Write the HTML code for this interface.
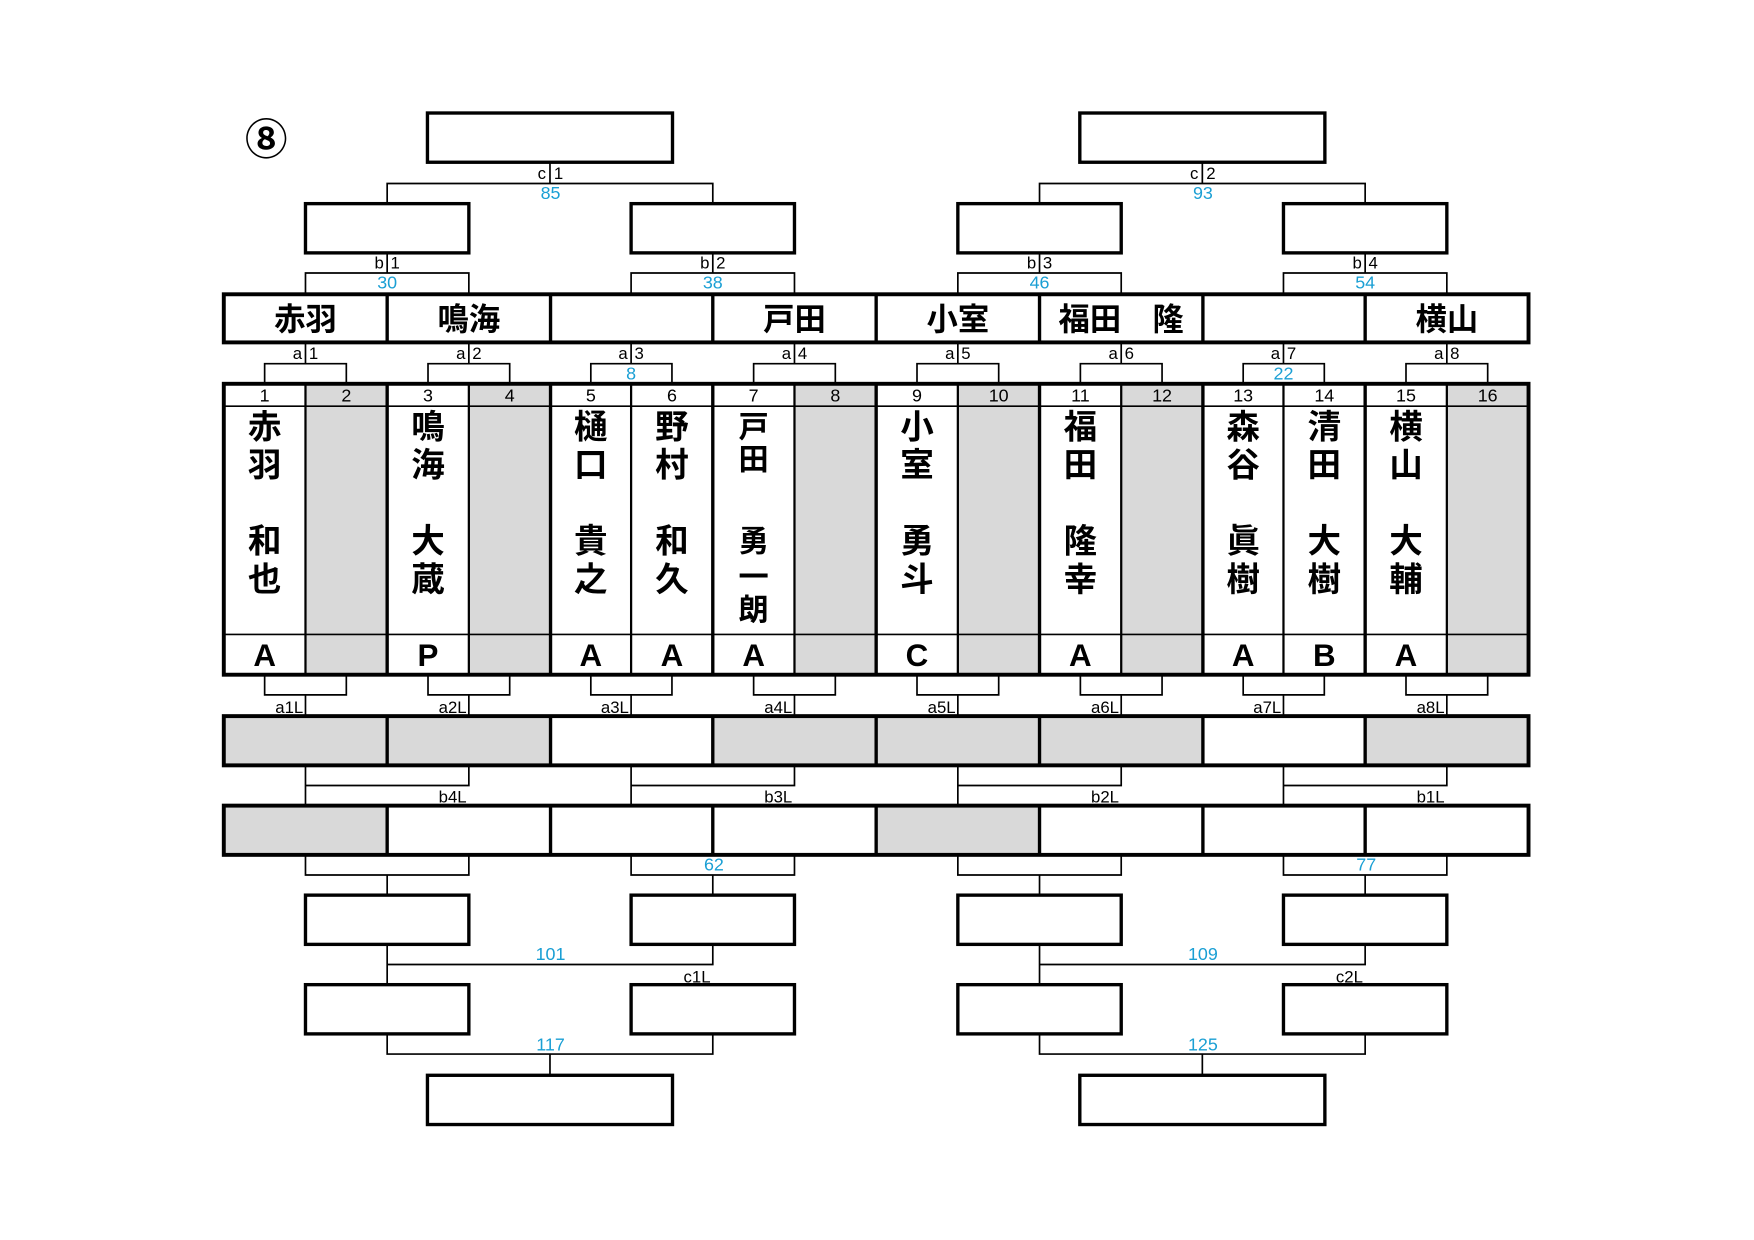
<!DOCTYPE html>
<html><head><meta charset="utf-8"><style>
html,body{margin:0;padding:0;background:#fff}
svg{display:block}
.s{font-family:"Liberation Sans","Noto Sans CJK JP",sans-serif;font-size:15px;fill:#000}
.bl{font-family:"Liberation Sans",sans-serif;font-size:16px;fill:#1a9fd4}
.tm{font-family:"Liberation Sans","Noto Sans CJK JP",sans-serif;font-size:28px;font-weight:bold;text-anchor:middle}
.nm{font-family:"Noto Sans CJK JP",sans-serif;font-size:30px;font-weight:bold;text-anchor:middle}
.nm2{font-family:"Noto Sans CJK JP",sans-serif;font-size:27px;font-weight:bold;text-anchor:middle}
.gr{font-family:"Liberation Sans",sans-serif;font-size:28px;font-weight:bold;text-anchor:middle}
.num{font-family:"Liberation Sans",sans-serif;font-size:16px;text-anchor:middle}
.c{fill:none;stroke:#000;stroke-width:1.5}
.b{fill:#fff;stroke:#000;stroke-width:3}
</style></head><body>
<svg width="1754" height="1240" viewBox="0 0 1567.5 1108.2" preserveAspectRatio="none" xmlns="http://www.w3.org/2000/svg">
<text x="238" y="138" font-family="Noto Sans CJK JP,DejaVu Sans,sans-serif" font-size="38" font-weight="bold" text-anchor="middle">⑧</text>

<rect class="b" x="382" y="101" width="219" height="44"/>
<rect class="b" x="965" y="101" width="219" height="44"/>
<path class="c" d="M346 182V164H637V182M491.5 164V145M929 182V164H1220V182M1074.5 164V145"/>
<text class="s" x="488" y="160" text-anchor="end">c</text><text class="s" x="495" y="160">1</text>
<text class="bl" x="492" y="178" text-anchor="middle">85</text>
<text class="s" x="1071" y="160" text-anchor="end">c</text><text class="s" x="1078" y="160">2</text>
<text class="bl" x="1075" y="178" text-anchor="middle">93</text>

<rect class="b" x="273" y="182" width="146" height="44"/>
<rect class="b" x="564" y="182" width="146" height="44"/>
<rect class="b" x="856" y="182" width="146" height="44"/>
<rect class="b" x="1147" y="182" width="146" height="44"/>
<path class="c" d="M273 263V244H419V263M346 244V226M564 263V244H710V263M637 244V226M856 263V244H1002V263M929 244V226M1147 263V244H1293V263M1220 244V226"/>
<text class="s" x="343" y="240" text-anchor="end">b</text><text class="s" x="349" y="240">1</text><text class="bl" x="346" y="258" text-anchor="middle">30</text>
<text class="s" x="634" y="240" text-anchor="end">b</text><text class="s" x="640" y="240">2</text><text class="bl" x="637" y="258" text-anchor="middle">38</text>
<text class="s" x="926" y="240" text-anchor="end">b</text><text class="s" x="932" y="240">3</text><text class="bl" x="929" y="258" text-anchor="middle">46</text>
<text class="s" x="1217" y="240" text-anchor="end">b</text><text class="s" x="1223" y="240">4</text><text class="bl" x="1220" y="258" text-anchor="middle">54</text>

<rect x="200" y="263" width="1166" height="43" fill="#fff" stroke="#000" stroke-width="3.5"/>
<path stroke="#000" stroke-width="3" d="M346 263V306M492 263V306M637 263V306M783 263V306M929 263V306M1075 263V306M1220 263V306"/>
<text class="tm" x="273" y="295">赤羽</text>
<text class="tm" x="419" y="295">鳴海</text>
<text class="tm" x="710" y="295">戸田</text>
<text class="tm" x="856" y="295">小室</text>
<text class="tm" x="1002" y="295">福田　隆</text>
<text class="tm" x="1293" y="295">横山</text>

<path class="c" d="M273 306V325M236.5 343V325H309.5V343M419 306V325M382.5 343V325H455.5V343M564 306V325M528 343V325H600.5V343M710 306V325M673.5 343V325H746.5V343M856 306V325M819.5 343V325H892.5V343M1002 306V325M965.5 343V325H1038.5V343M1147 306V325M1111 343V325H1183.5V343M1293 306V325M1256.5 343V325H1329.5V343"/>
<g class="s">
<text x="270" y="321" text-anchor="end">a</text><text x="276" y="321">1</text>
<text x="416" y="321" text-anchor="end">a</text><text x="422" y="321">2</text>
<text x="561" y="321" text-anchor="end">a</text><text x="567" y="321">3</text>
<text x="707" y="321" text-anchor="end">a</text><text x="713" y="321">4</text>
<text x="853" y="321" text-anchor="end">a</text><text x="859" y="321">5</text>
<text x="999" y="321" text-anchor="end">a</text><text x="1005" y="321">6</text>
<text x="1144" y="321" text-anchor="end">a</text><text x="1150" y="321">7</text>
<text x="1290" y="321" text-anchor="end">a</text><text x="1296" y="321">8</text>
</g>
<text class="bl" x="564" y="339" text-anchor="middle">8</text>
<text class="bl" x="1147" y="339" text-anchor="middle">22</text>

<rect x="200" y="343" width="1166" height="260" fill="#fff"/>
<g fill="#d9d9d9">
<rect x="273" y="343" width="73" height="260"/>
<rect x="419" y="343" width="73" height="260"/>
<rect x="710" y="343" width="73" height="260"/>
<rect x="856" y="343" width="73" height="260"/>
<rect x="1002" y="343" width="73" height="260"/>
<rect x="1293" y="343" width="73" height="260"/>
</g>
<path stroke="#000" stroke-width="1.5" d="M200 363H1366M200 567H1366"/>
<path stroke="#000" stroke-width="2" d="M273 343V603M419 343V603M564 343V603M710 343V603M856 343V603M1002 343V603M1147 343V603M1293 343V603"/>
<path stroke="#000" stroke-width="3" d="M346 343V603M492 343V603M637 343V603M783 343V603M929 343V603M1075 343V603M1220 343V603"/>
<rect x="200" y="343" width="1166" height="260" fill="none" stroke="#000" stroke-width="3.5"/>
<g class="num">
<text x="236.5" y="359">1</text><text x="309.5" y="359">2</text><text x="382.5" y="359">3</text><text x="455.5" y="359">4</text>
<text x="528" y="359">5</text><text x="600.5" y="359">6</text><text x="673.5" y="359">7</text><text x="746.5" y="359">8</text>
<text x="819.5" y="359">9</text><text x="892.5" y="359">10</text><text x="965.5" y="359">11</text><text x="1038.5" y="359">12</text>
<text x="1111" y="359">13</text><text x="1183.5" y="359">14</text><text x="1256.5" y="359">15</text><text x="1329.5" y="359">16</text>
</g>
<g class="nm">
<text x="236.5" y="392">赤</text><text x="236.5" y="426">羽</text><text x="236.5" y="494">和</text><text x="236.5" y="528">也</text>
<text x="382.5" y="392">鳴</text><text x="382.5" y="426">海</text><text x="382.5" y="494">大</text><text x="382.5" y="528">蔵</text>
<text x="528" y="392">樋</text><text x="528" y="426">口</text><text x="528" y="494">貴</text><text x="528" y="528">之</text>
<text x="600.5" y="392">野</text><text x="600.5" y="426">村</text><text x="600.5" y="494">和</text><text x="600.5" y="528">久</text>
<text x="819.5" y="392">小</text><text x="819.5" y="426">室</text><text x="819.5" y="494">勇</text><text x="819.5" y="528">斗</text>
<text x="965.5" y="392">福</text><text x="965.5" y="426">田</text><text x="965.5" y="494">隆</text><text x="965.5" y="528">幸</text>
<text x="1111" y="392">森</text><text x="1111" y="426">谷</text><text x="1111" y="494">眞</text><text x="1111" y="528">樹</text>
<text x="1183.5" y="392">清</text><text x="1183.5" y="426">田</text><text x="1183.5" y="494">大</text><text x="1183.5" y="528">樹</text>
<text x="1256.5" y="392">横</text><text x="1256.5" y="426">山</text><text x="1256.5" y="494">大</text><text x="1256.5" y="528">輔</text>
</g>
<g class="nm2">
<text x="673.5" y="391">戸</text><text x="673.5" y="420">田</text><text x="673.5" y="493">勇</text><text x="673.5" y="525">一</text><text x="673.5" y="554">朗</text>
</g>
<g class="gr">
<text x="236.5" y="595">A</text><text x="382.5" y="595">P</text><text x="528" y="595">A</text><text x="600.5" y="595">A</text>
<text x="673.5" y="595">A</text><text x="819.5" y="595">C</text><text x="965.5" y="595">A</text><text x="1111" y="595">A</text>
<text x="1183.5" y="595">B</text><text x="1256.5" y="595">A</text>
</g>

<path class="c" d="M236.5 603V621H309.5V603M273 621V640M382.5 603V621H455.5V603M419 621V640M528 603V621H600.5V603M564 621V640M673.5 603V621H746.5V603M710 621V640M819.5 603V621H892.5V603M856 621V640M965.5 603V621H1038.5V603M1002 621V640M1111 603V621H1183.5V603M1147 621V640M1256.5 603V621H1329.5V603M1293 621V640"/>
<g class="s" text-anchor="end">
<text x="271" y="637">a1L</text><text x="417" y="637">a2L</text><text x="562" y="637">a3L</text><text x="708" y="637">a4L</text>
<text x="854" y="637">a5L</text><text x="1000" y="637">a6L</text><text x="1145" y="637">a7L</text><text x="1291" y="637">a8L</text>
</g>

<rect x="200" y="640" width="1166" height="44" fill="#fff"/>
<g fill="#d9d9d9">
<rect x="200" y="640" width="292" height="44"/>
<rect x="637" y="640" width="438" height="44"/>
<rect x="1220" y="640" width="146" height="44"/>
</g>
<path stroke="#000" stroke-width="3" d="M346 640V684M492 640V684M637 640V684M783 640V684M929 640V684M1075 640V684M1220 640V684"/>
<rect x="200" y="640" width="1166" height="44" fill="none" stroke="#000" stroke-width="3.5"/>

<path class="c" d="M273 684V720M419 684V702H273M564 684V720M710 684V702H564M856 684V720M1002 684V702H856M1147 684V720M1293 684V702H1147"/>
<g class="s" text-anchor="end">
<text x="417" y="717">b4L</text><text x="708" y="717">b3L</text><text x="1000" y="717">b2L</text><text x="1291" y="717">b1L</text>
</g>

<rect x="200" y="720" width="1166" height="44" fill="#fff"/>
<g fill="#d9d9d9">
<rect x="200" y="720" width="146" height="44"/>
<rect x="783" y="720" width="146" height="44"/>
</g>
<path stroke="#000" stroke-width="3" d="M346 720V764M492 720V764M637 720V764M783 720V764M929 720V764M1075 720V764M1220 720V764"/>
<rect x="200" y="720" width="1166" height="44" fill="none" stroke="#000" stroke-width="3.5"/>

<path class="c" d="M273 764V782H419V764M346 782V800M564 764V782H710V764M637 782V800M856 764V782H1002V764M929 782V800M1147 764V782H1293V764M1220 782V800"/>
<text class="bl" x="638" y="778" text-anchor="middle">62</text>
<text class="bl" x="1221" y="778" text-anchor="middle">77</text>

<rect class="b" x="273" y="800" width="146" height="44"/>
<rect class="b" x="564" y="800" width="146" height="44"/>
<rect class="b" x="856" y="800" width="146" height="44"/>
<rect class="b" x="1147" y="800" width="146" height="44"/>

<path class="c" d="M346 844V880M637 844V862H346M929 844V880M1220 844V862H929"/>
<text class="bl" x="492" y="858" text-anchor="middle">101</text>
<text class="s" x="635" y="878" text-anchor="end">c1L</text>
<text class="bl" x="1075" y="858" text-anchor="middle">109</text>
<text class="s" x="1218" y="878" text-anchor="end">c2L</text>

<rect class="b" x="273" y="880" width="146" height="44"/>
<rect class="b" x="564" y="880" width="146" height="44"/>
<rect class="b" x="856" y="880" width="146" height="44"/>
<rect class="b" x="1147" y="880" width="146" height="44"/>

<path class="c" d="M346 924V942H637V924M491.5 942V961M929 924V942H1220V924M1074.5 942V961"/>
<text class="bl" x="492" y="939" text-anchor="middle">117</text>
<text class="bl" x="1075" y="939" text-anchor="middle">125</text>

<rect class="b" x="382" y="961" width="219" height="44"/>
<rect class="b" x="965" y="961" width="219" height="44"/>
</svg>
</body></html>
